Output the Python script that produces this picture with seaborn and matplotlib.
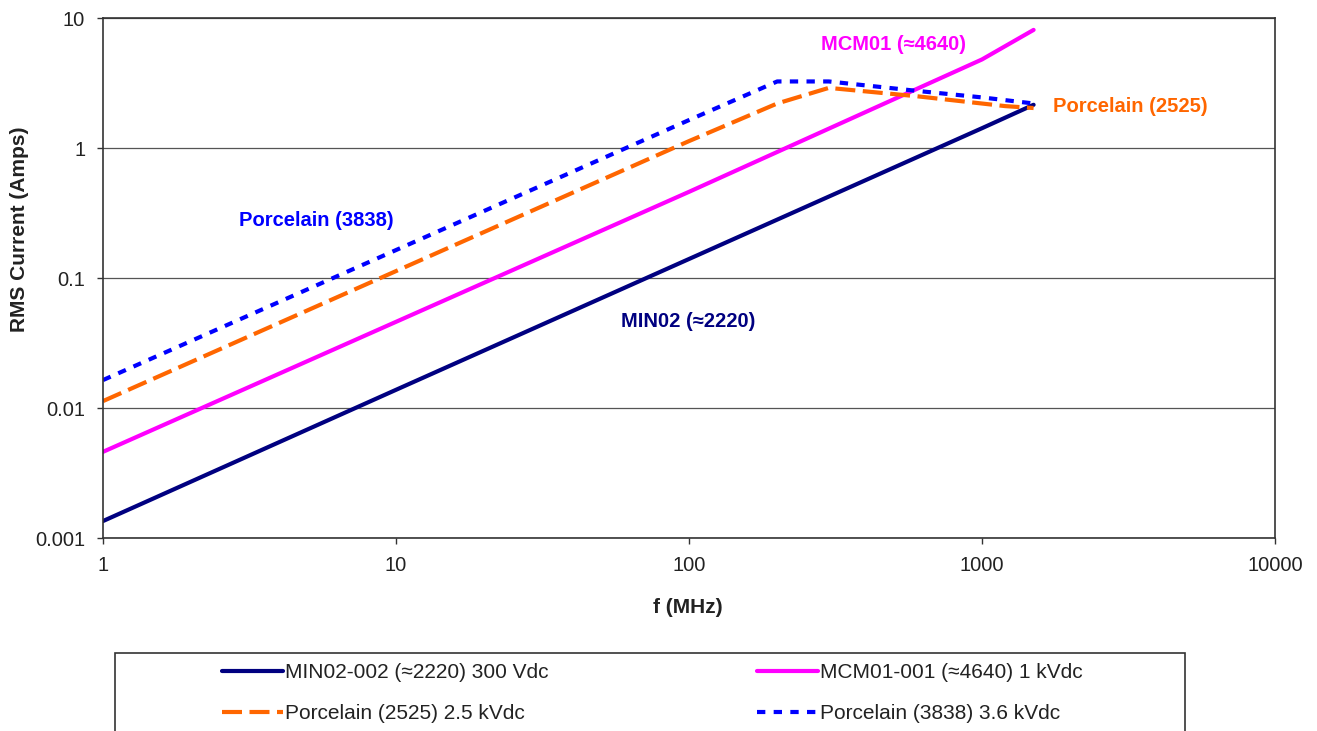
import numpy as np
import pandas as pd
import matplotlib.pyplot as plt
import seaborn as sns
from matplotlib.patches import Rectangle

# frequencies (MHz) and RMS current (A)
min02_f = [1, 10, 100, 1000, 1500]
min02_i = [0.00135, 0.0138, 0.14, 1.42, 2.15]

mcm01_f = [1, 10, 100, 1000, 1500]
mcm01_i = [0.0046, 0.046, 0.46, 4.8, 8.1]

p2525_f = [1, 10, 100, 200, 300, 600, 1200, 1500]
p2525_i = [0.0113, 0.113, 1.13, 2.2, 2.9, 2.5, 2.1, 2.03]

p3838_f = [1, 10, 100, 200, 300, 600, 1000, 1500]
p3838_i = [0.0164, 0.164, 1.64, 3.25, 3.25, 2.75, 2.45, 2.2]

legend_labels = ["MIN02-002 (\u22482220) 300 Vdc", "MCM01-001 (\u22484640) 1 kVdc",
                 "Porcelain (2525) 2.5 kVdc", "Porcelain (3838) 3.6 kVdc"]
x_ticks = [1, 10, 100, 1000, 10000]
x_ticklabels = ["1", "10", "100", "1000", "10000"]
y_ticks = [0.001, 0.01, 0.1, 1, 10]
y_ticklabels = ["0.001", "0.01", "0.1", "1", "10"]

sns.set_theme(style="white")
plt.rcParams['font.family'] = ['Liberation Sans', 'DejaVu Sans']

W, H = 1317, 731
fig = plt.figure(figsize=(W / 100, H / 100), dpi=100)
ax = fig.add_axes([103 / W, 1 - 538 / H, (1275 - 103) / W, (538 - 18) / H])

navy, magenta, orange, blue = "#000080", "#FF00FF", "#FF6600", "#0000FF"

sns.lineplot(x=min02_f, y=min02_i, ax=ax, color=navy, lw=3, label=legend_labels[0])
sns.lineplot(x=mcm01_f, y=mcm01_i, ax=ax, color=magenta, lw=3, label=legend_labels[1])
sns.lineplot(x=p2525_f, y=p2525_i, ax=ax, color=orange, lw=3, label=legend_labels[2])
sns.lineplot(x=p3838_f, y=p3838_i, ax=ax, color=blue, lw=3, label=legend_labels[3])
ax.lines[2].set_dashes([4.8, 1.8])
ax.lines[3].set_dashes([2, 2])

ax.set_xscale("log")
ax.set_yscale("log")
ax.set_xlim(1, 10000)
ax.set_ylim(0.001, 10)
ax.set_xticks(x_ticks)
ax.set_xticklabels(x_ticklabels)
ax.set_yticks(y_ticks)
ax.set_yticklabels(y_ticklabels)
ax.minorticks_off()
ax.tick_params(axis="both", which="major", direction="out", length=4.3, width=1,
               color="#333333", labelsize=14.5, labelcolor="#222222",
               bottom=True, left=True, pad=8.5)
ax.grid(axis="y", which="major", color="#555555", lw=0.9)
ax.grid(axis="x", visible=False)
for s in ax.spines.values():
    s.set_color("#333333")
    s.set_linewidth(1.2)

ax.set_xlabel("f (MHz)", fontsize=15, fontweight="bold", color="#222222")
ax.xaxis.set_label_coords((688 - 103) / 1172, -(598 - 538) / 520)
ax.set_ylabel("RMS Current (Amps)", fontsize=15, fontweight="bold", color="#222222")
ax.yaxis.set_label_coords((29 - 103) / 1172, (538 - 229) / 520)

# in-plot labels
ax.text(497, 6.2, "MCM01 (\u22484640)", color=magenta, fontsize=14.5, fontweight="bold", ha="center", va="center")
ax.text(3200, 2.1, "Porcelain (2525)", color=orange, fontsize=14.5, fontweight="bold", ha="center", va="center")
ax.text(5.33, 0.279, "Porcelain (3838)", color=blue, fontsize=14.5, fontweight="bold", ha="center", va="center")
ax.text(99, 0.0459, "MIN02 (\u22482220)", color=navy, fontsize=14.5, fontweight="bold", ha="center", va="center")

# legend below, box cut off by the figure edge
handles, labels = ax.get_legend_handles_labels()
ax.get_legend().remove()
order = [0, 2, 1, 3]
fig.patches.append(Rectangle((115 / W, -0.05), (1185 - 115) / W, 0.05 + (H - 653) / H,
                             transform=fig.transFigure, fill=False, edgecolor="#333333", lw=1.2))
fig.legend([handles[k] for k in order], [labels[k] for k in order], ncol=2, frameon=False,
           loc="upper left", bbox_to_anchor=(222 / W, 1 - 663 / H), fontsize=15,
           borderpad=0, borderaxespad=0, handlelength=2.93, handletextpad=0.1,
           columnspacing=10.0, labelspacing=1.05, labelcolor="#222222")

fig.savefig("out.png", dpi=100)
